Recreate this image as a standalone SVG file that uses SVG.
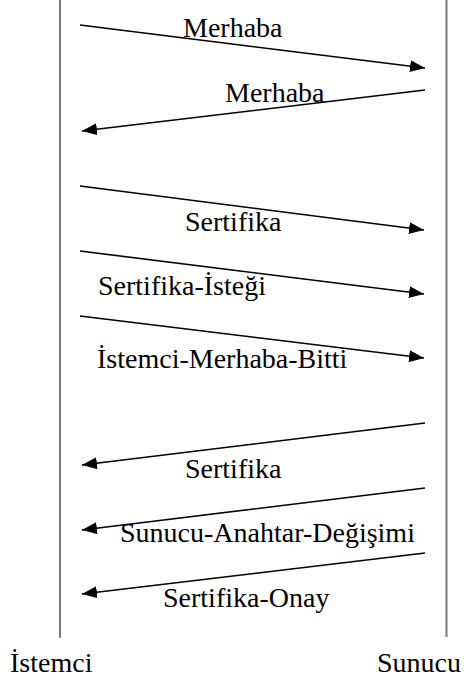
<svg xmlns="http://www.w3.org/2000/svg" width="464" height="677" viewBox="0 0 464 677">
  <style>
    .life { stroke: #7a7a7a; stroke-width: 2; fill: none; }
    .msg { stroke: #000; stroke-width: 1.6; fill: none; marker-end: url(#head); }
    text { font-family: "Liberation Serif", "Times New Roman", serif; font-size: 28px; fill: #000; }
  </style>
  <defs>
    <marker id="head" markerUnits="userSpaceOnUse" markerWidth="16" markerHeight="12" viewBox="0 0 16 12" refX="15" refY="6" orient="auto">
      <path d="M0,0 L15,6 L0,12 Z" fill="#000"/>
    </marker>
  </defs>

  <!-- lifelines -->
  <g id="istemci">
    <line class="life" x1="60" y1="0" x2="60" y2="638"/>
    <text x="10" y="672">İstemci</text>
  </g>
  <g id="sunucu">
    <line class="life" x1="446.5" y1="0" x2="446.5" y2="637"/>
    <text x="377" y="672">Sunucu</text>
  </g>

  <!-- messages -->
  <g id="connectors">
    <line class="msg" x1="80" y1="25" x2="425" y2="68"/>
    <line class="msg" x1="425" y1="90" x2="82" y2="131"/>
    <line class="msg" x1="80" y1="186" x2="424" y2="230"/>
    <line class="msg" x1="80" y1="251" x2="424" y2="294"/>
    <line class="msg" x1="80" y1="316" x2="424" y2="358"/>
    <line class="msg" x1="425" y1="423" x2="82" y2="465"/>
    <line class="msg" x1="425" y1="488" x2="82" y2="530"/>
    <line class="msg" x1="425" y1="553" x2="82" y2="594"/>
  </g>

  <g id="labels">
    <text x="183" y="37">Merhaba</text>
    <text x="225" y="102">Merhaba</text>
    <text x="185" y="231">Sertifika</text>
    <text x="98" y="295">Sertifika-İsteği</text>
    <text x="97" y="368">İstemci-Merhaba-Bitti</text>
    <text x="185" y="478">Sertifika</text>
    <text x="120" y="542">Sunucu-Anahtar-Değişimi</text>
    <text x="163" y="607">Sertifika-Onay</text>
  </g>
</svg>
